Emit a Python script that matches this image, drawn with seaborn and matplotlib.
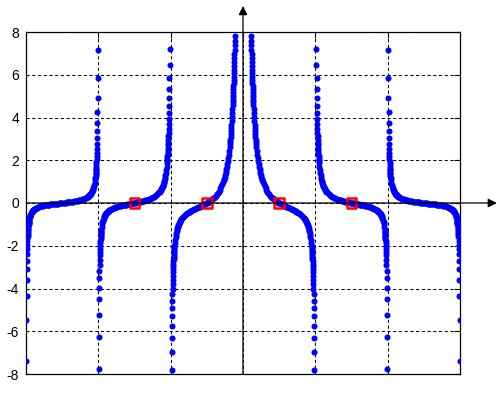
import numpy as np
import pandas as pd
import matplotlib
matplotlib.use("Agg")
import matplotlib.pyplot as plt
import seaborn as sns

sns.set_style("white")
plt.rcParams["font.family"] = ["Liberation Sans", "DejaVu Sans"]
plt.rcParams["axes.unicode_minus"] = False

PI = np.pi

# Shared offsets (radians) from a vertical asymptote / grid line
table_dx = [0.13, 0.146, 0.162, 0.178, 0.194, 0.21, 0.226, 0.242, 0.258, 0.274,
            0.29, 0.306, 0.322, 0.338, 0.354, 0.37, 0.386, 0.402, 0.418, 0.434,
            0.45, 0.466, 0.482, 0.5, 0.54, 0.58, 0.62, 0.66, 0.70, 0.74, 0.78,
            0.82, 0.86, 0.90, 0.94, 0.98, 1.02, 1.06, 1.10, 1.14, 1.18, 1.22,
            1.26, 1.30, 1.34, 1.38, 1.42, 1.46, 1.50, 1.54]

# Central branch, right of x = 0 (offset = x)
b0_left_dx = [0.35, 0.355, 0.36, 0.365, 0.37, 0.375, 0.38, 0.385, 0.39, 0.395,
              0.40, 0.405, 0.41, 0.415, 0.42, 0.425, 0.43, 0.435, 0.44, 0.445,
              0.45, 0.46, 0.47, 0.48, 0.49, 0.50, 0.51, 0.52, 0.53, 0.54, 0.55,
              0.56, 0.57, 0.58, 0.60, 0.62, 0.64, 0.66, 0.68, 0.70, 0.72, 0.74,
              0.76, 0.78, 0.80, 0.82, 0.84, 0.86, 0.90, 0.94, 0.98, 1.02, 1.06,
              1.10, 1.14, 1.18, 1.22, 1.26, 1.30, 1.34, 1.38, 1.42, 1.46, 1.50,
              1.54]
b0_left_y = [7.827, 7.599, 7.380, 7.170, 6.968, 6.775, 6.589, 6.410, 6.238, 6.072,
             5.913, 5.760, 5.612, 5.469, 5.332, 5.199, 5.071, 4.947, 4.828, 4.712,
             4.600, 4.388, 4.189, 4.002, 3.826, 3.661, 3.505, 3.359, 3.220, 3.089,
             2.965, 2.848, 2.737, 2.632, 2.436, 2.259, 2.099, 1.952, 1.819, 1.696,
             1.584, 1.480, 1.385, 1.296, 1.214, 1.138, 1.067, 1.001, 0.882, 0.777,
             0.684, 0.602, 0.529, 0.463, 0.403, 0.349, 0.300, 0.255, 0.214, 0.175,
             0.140, 0.107, 0.076, 0.047, 0.020]

# Central branch, left of x = pi
b0_right_dx = [0.0412, 0.0462, 0.0512, 0.0562, 0.0612, 0.0662, 0.0712, 0.0762,
               0.0812, 0.0862, 0.0912, 0.0962, 0.1012, 0.1062, 0.1112, 0.1162,
               0.1212, 0.1262, 0.1312, 0.1362, 0.1412, 0.1462, 0.1512, 0.1562,
               0.1612, 0.1662] + table_dx[3:]
b0_right_y = [-7.825, -6.988, -6.315, -5.761, -5.298, -4.905, -4.566, -4.273,
              -4.015, -3.788, -3.585, -3.403, -3.239, -3.091, -2.956, -2.833,
              -2.719, -2.614, -2.518, -2.428, -2.345, -2.267, -2.196, -2.127,
              -2.064, -2.004,
              -1.8756, -1.7268, -1.6004, -1.4917, -1.3972, -1.3142, -1.2407,
              -1.1751, -1.1163, -1.0631, -1.0148, -0.9707, -0.9302, -0.8930,
              -0.8586, -0.8266, -0.7968, -0.7691, -0.7431, -0.7187, -0.6930,
              -0.6413, -0.5958, -0.5555, -0.5192, -0.4862, -0.4560, -0.4281,
              -0.4019, -0.3773, -0.3540, -0.3317, -0.3103, -0.2895, -0.2692,
              -0.2493, -0.2296, -0.2100, -0.1904, -0.1707, -0.1507, -0.1304,
              -0.1097, -0.0883, -0.0662, -0.0432, -0.0192]

# Second branch, right of x = pi
b1_left_dx = [0.0436, 0.0486, 0.0536, 0.0586, 0.0636, 0.0686, 0.0736, 0.0786,
              0.0836, 0.0886, 0.0936, 0.0986, 0.1036, 0.1086, 0.1136, 0.1186,
              0.1236, 0.1286, 0.1336, 0.1386, 0.1436, 0.1486, 0.1536] + table_dx[2:]
b1_left_y = [7.196, 6.445, 5.833, 5.326, 4.899, 4.534, 4.218, 3.943, 3.700, 3.485,
             3.293, 3.120, 2.964, 2.822, 2.693, 2.574, 2.465, 2.365, 2.272, 2.186,
             2.105, 2.030, 1.960,
             1.852, 1.674, 1.526, 1.400, 1.2915, 1.1973, 1.1147, 1.0416, 0.9765,
             0.9181, 0.8654, 0.8176, 0.7741, 0.7342, 0.6976, 0.6638, 0.6325,
             0.6034, 0.5764, 0.5511, 0.5275, 0.5027, 0.4531, 0.4101, 0.3724,
             0.3389, 0.3090, 0.2822, 0.2578, 0.2355, 0.2151, 0.1964, 0.1789,
             0.1627, 0.1476, 0.1334, 0.1200, 0.1073, 0.0953, 0.0839, 0.0730,
             0.0625, 0.0524, 0.0427, 0.0333, 0.0242, 0.0153, 0.0066]

# Second branch, left of x = 2*pi
b1_right_dx = [0.0205, 0.0255, 0.0305, 0.0355, 0.0405, 0.0455, 0.0505, 0.0555,
               0.0605, 0.0655, 0.0705, 0.0755, 0.0805, 0.0855, 0.0905, 0.0955,
               0.1005, 0.1055, 0.1105, 0.1155, 0.1205, 0.1255] + table_dx
b1_right_y = [-7.789, -6.267, -5.244, -4.509, -3.955, -3.523, -3.177, -2.893,
              -2.656, -2.455, -2.283, -2.134, -2.003, -1.887, -1.784, -1.692,
              -1.609, -1.534, -1.466, -1.404, -1.347, -1.290,
              -1.2431, -1.1081, -0.9996, -0.9105, -0.8359, -0.7725, -0.7180,
              -0.6706, -0.6290, -0.5921, -0.5591, -0.5296, -0.5028, -0.4785,
              -0.4564, -0.4360, -0.4173, -0.3999, -0.3838, -0.3689, -0.3549,
              -0.3418, -0.3295, -0.3165, -0.2905, -0.2676, -0.2474, -0.2291,
              -0.2126, -0.1976, -0.1837, -0.1708, -0.1587, -0.1474, -0.1367,
              -0.1265, -0.1167, -0.1073, -0.0982, -0.0894, -0.0807, -0.0723,
              -0.0639, -0.0557, -0.0475, -0.0394, -0.0313, -0.0231, -0.0148,
              -0.0065]

# Third branch, right of x = 2*pi
b2_left_dx = [0.0221, 0.0271, 0.0321, 0.0371, 0.0421, 0.0471, 0.0521, 0.0571,
              0.0621, 0.0671, 0.0721, 0.0771, 0.0821, 0.0871, 0.0921, 0.0971,
              0.1021, 0.1071, 0.1121, 0.1171, 0.1221] + table_dx
b2_left_y = [7.176, 5.848, 4.933, 4.265, 3.755, 3.354, 3.030, 2.762, 2.538, 2.347,
             2.182, 2.039, 1.914, 1.802, 1.703, 1.614, 1.534, 1.461, 1.395, 1.334,
             1.273,
             1.1927, 1.0578, 0.9493, 0.8603, 0.7858, 0.7226, 0.6682, 0.6209,
             0.5793, 0.5426, 0.5098, 0.4804, 0.4538, 0.4297, 0.4077, 0.3875,
             0.3690, 0.3518, 0.3360, 0.3212, 0.3074, 0.2946, 0.2825, 0.2699,
             0.2445, 0.2224, 0.2029, 0.1856, 0.1700, 0.1559, 0.1431, 0.1314,
             0.1205, 0.1105, 0.1011, 0.0923, 0.0841, 0.0763, 0.0689, 0.0619,
             0.0552, 0.0488, 0.0426, 0.0366, 0.0308, 0.0252, 0.0197, 0.0144,
             0.0091, 0.0039]

# Third branch, left of x = 3*pi (plot edge)
b2_right_dx = [0.0144, 0.0194, 0.0244, 0.0294, 0.0344, 0.0394, 0.0444, 0.0494,
               0.0544, 0.0594, 0.0644, 0.0694, 0.0744, 0.0794, 0.0844, 0.0894,
               0.0944, 0.0994, 0.1044, 0.1094, 0.1144, 0.1194, 0.1244] + table_dx
b2_right_y = [-7.380, -5.481, -4.360, -3.620, -3.096, -2.704, -2.401, -2.159,
              -1.962, -1.798, -1.659, -1.540, -1.437, -1.348, -1.269, -1.198,
              -1.135, -1.079, -1.028, -0.981, -0.939, -0.900, -0.864,
              -0.8229, -0.7329, -0.6606, -0.6011, -0.5514, -0.5091, -0.4728,
              -0.4412, -0.4134, -0.3888, -0.3668, -0.3471, -0.3293, -0.3131,
              -0.2983, -0.2847, -0.2722, -0.2607, -0.2500, -0.2400, -0.2307,
              -0.2219, -0.2137, -0.2051, -0.1878, -0.1726, -0.1591, -0.1470,
              -0.1361, -0.1261, -0.1169, -0.1084, -0.1005, -0.0931, -0.0861,
              -0.0794, -0.0731, -0.0670, -0.0611, -0.0555, -0.0500, -0.0446,
              -0.0393, -0.0342, -0.0291, -0.0240, -0.0190, -0.0140, -0.0089,
              -0.0039]

# Red square markers at the zero crossings
zero_x = [-1.5 * PI, -0.5 * PI, 0.5 * PI, 1.5 * PI]
zero_y = [0.0, 0.0, 0.0, 0.0]

y_ticks = [-8, -6, -4, -2, 0, 2, 4, 6, 8]
x_grid = [-2 * PI, -PI, 0.0, PI, 2 * PI]
x_limits = [-3 * PI, 3 * PI]
y_limits = [-8, 8]

segments = [
    (0.0, 1, b0_left_dx, b0_left_y),
    (PI, -1, b0_right_dx, b0_right_y),
    (PI, 1, b1_left_dx, b1_left_y),
    (2 * PI, -1, b1_right_dx, b1_right_y),
    (2 * PI, 1, b2_left_dx, b2_left_y),
    (3 * PI, -1, b2_right_dx, b2_right_y),
]
rows = []
for anchor, sgn, dxs, ys in segments:
    assert len(dxs) == len(ys), (anchor, sgn, len(dxs), len(ys))
    for dx, y in zip(dxs, ys):
        x = anchor + sgn * dx
        rows.append((x, y))
        rows.append((-x, y))   # the curve is symmetric about the y axis
curve = pd.DataFrame(rows, columns=["x", "y"])
zeros = pd.DataFrame({"x": zero_x, "y": zero_y})

fig = plt.figure(figsize=(5.03, 4.09), dpi=100)
ax = fig.add_axes([26 / 503, 35 / 409, 434 / 503, 342 / 409])

sns.scatterplot(data=curve, x="x", y="y", ax=ax, color="#0000ff",
                marker="o", s=19, linewidth=0, zorder=3, legend=False)
sns.scatterplot(data=zeros, x="x", y="y", ax=ax, color="red",
                facecolor="none", edgecolor="red", marker="s", s=50,
                linewidth=1.8, zorder=4, legend=False)

ax.set_xlim(*x_limits)
ax.set_ylim(*y_limits)
ax.set_xticks(x_grid)
ax.set_xticklabels([])
ax.set_yticks(y_ticks)
ax.set_yticklabels([str(t) for t in y_ticks])
ax.set_xlabel("")
ax.set_ylabel("")
ax.tick_params(direction="in", length=4, width=0.8, top=True, right=True,
               labelsize=10, pad=5, colors="black")
ax.set_axisbelow(True)
ax.grid(True, color="black", linestyle=(0, (3, 2.5)), linewidth=0.75)
for sp in ax.spines.values():
    sp.set_color("black")
    sp.set_linewidth(0.9)

# Axis arrows
ax.annotate("", xy=(1.085, 0), xycoords=("axes fraction", "data"),
            xytext=(0, 0), textcoords=("axes fraction", "data"),
            arrowprops=dict(arrowstyle="-|>", color="black", lw=0.9,
                            mutation_scale=13, shrinkA=0, shrinkB=0),
            annotation_clip=False, zorder=5)
ax.annotate("", xy=(0, 1.076), xycoords=("data", "axes fraction"),
            xytext=(0, 0), textcoords=("data", "axes fraction"),
            arrowprops=dict(arrowstyle="-|>", color="black", lw=0.9,
                            mutation_scale=13, shrinkA=0, shrinkB=0),
            annotation_clip=False, zorder=5)

fig.savefig("out.png", dpi=100)
